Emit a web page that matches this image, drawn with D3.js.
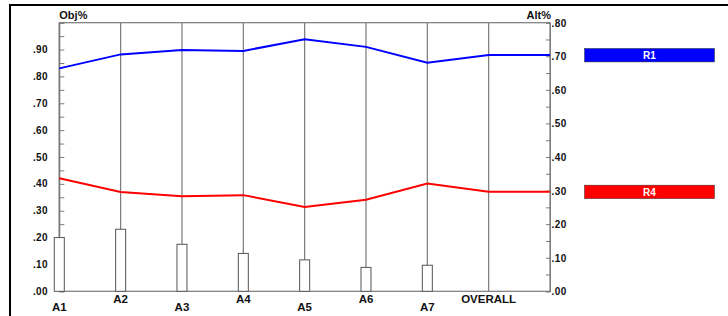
<!DOCTYPE html>
<html><head><meta charset="utf-8">
<script src="https://cdn.jsdelivr.net/npm/d3@7"></script>
<style>
html,body{margin:0;padding:0;background:#fff;}
text{font-family:"Liberation Sans",Arial,sans-serif;font-weight:bold;}
</style></head>
<body>
<svg id="c" width="728" height="316"></svg>
<script>
const categories = ["A1","A2","A3","A4","A5","A6","A7","OVERALL"];
const r1Values = [0.830,0.882,0.898,0.895,0.938,0.910,0.851,0.880];
const r4Values = [0.421,0.370,0.354,0.358,0.314,0.341,0.401,0.371];
const barValues = [0.200,0.231,0.175,0.141,0.117,0.089,0.097,null];
const leftTicks = [0,0.1,0.2,0.3,0.4,0.5,0.6,0.7,0.8,0.9];
const rightTicks = [0,0.1,0.2,0.3,0.4,0.5,0.6,0.7,0.8];
const seriesNames = ["R1","R4"];
const seriesColors = ["#0000ff","#ff0000"];

const svg = d3.select("#c");
const L = 59.3, R = 550, T = 22.7, B = 291.3;
const x = d3.scaleLinear().domain([0, categories.length]).range([L, R]);
const yL = d3.scaleLinear().domain([0,1]).range([B,T]);
const yR = d3.scaleLinear().domain([0,0.8]).range([B,T]);
const fmt = v => d3.format(".2f")(v).replace(/^0/,"");

// outer border (left + top)
svg.append("line").attr("x1",10).attr("x2",10).attr("y1",4).attr("y2",316).attr("stroke","#000").attr("stroke-width",2);
svg.append("line").attr("x1",9).attr("x2",728).attr("y1",5).attr("y2",5).attr("stroke","#000").attr("stroke-width",2);

const grid = "#7a7a7a";
// frame
svg.append("rect").attr("x",L).attr("y",T).attr("width",R-L).attr("height",B-T)
  .attr("fill","none").attr("stroke",grid).attr("stroke-width",1.2);

// vertical gridlines
svg.append("g").selectAll("line").data(categories).join("line")
  .attr("x1",(d,i)=>x(i)).attr("x2",(d,i)=>x(i)).attr("y1",T).attr("y2",B)
  .attr("stroke",grid).attr("stroke-width",1.2);

// left axis
const la = svg.append("g").attr("transform",`translate(${L},0)`)
  .call(d3.axisRight(yL).tickValues(d3.range(0,1.0001,0.05)).tickSize(5).tickFormat(""));
la.select(".domain").attr("stroke",grid);
la.selectAll(".tick line").attr("stroke",grid);
svg.append("g").selectAll("text").data(leftTicks).join("text")
  .attr("x",48).attr("y",d=>yL(d)+3.5).attr("text-anchor","end")
  .attr("font-size",10).attr("letter-spacing",0.4).attr("fill","#111").text(fmt);

// right axis
const ra = svg.append("g").attr("transform",`translate(${R},0)`)
  .call(d3.axisLeft(yR).tickValues(d3.range(0,0.8001,0.05)).tickSize(4).tickFormat(""));
ra.select(".domain").attr("stroke",grid);
ra.selectAll(".tick line").attr("stroke",grid);
svg.append("g").selectAll("text").data(rightTicks).join("text")
  .attr("x",R+1.5).attr("y",d=>yR(d)+4).attr("text-anchor","start")
  .attr("font-size",10).attr("letter-spacing",0.4).attr("fill","#111").text(fmt);

// bars
svg.append("g").selectAll("rect").data(barValues.map((v,i)=>({v,i})).filter(d=>d.v!=null)).join("rect")
  .attr("x",d=>x(d.i)-5).attr("width",10)
  .attr("y",d=>yL(d.v)).attr("height",d=>B-yL(d.v))
  .attr("fill","#fff").attr("stroke","#555").attr("stroke-width",1);

// axis titles
svg.append("text").attr("x",L).attr("y",19).attr("font-size",11).attr("fill","#111").text("Obj%");
svg.append("text").attr("x",R+1).attr("y",19).attr("text-anchor","end").attr("font-size",11).attr("fill","#111").text("Alt%");

// category labels
svg.append("g").selectAll("text").data(categories).join("text")
  .attr("x",(d,i)=>x(i)).attr("y",(d,i)=> i%2===0 ? 311 : 302.5)
  .attr("text-anchor","middle").attr("font-size",11.5).attr("fill","#111").text(d=>d);

// lines
const seriesData = [r1Values, r4Values];
seriesData.forEach((vals,si)=>{
  const pts = vals.map((v,i)=>[x(i), yL(v)]);
  pts.push([R, yL(vals[vals.length-1])]);
  svg.append("path").attr("d",d3.line()(pts)).attr("fill","none")
    .attr("stroke",seriesColors[si]).attr("stroke-width",2);
});

// legend
seriesData.forEach((vals,si)=>{
  const cy = yL(vals[vals.length-1]);
  svg.append("rect").attr("x",584.5).attr("y",cy-6.5).attr("width",130).attr("height",13.5)
    .attr("fill",seriesColors[si]).attr("stroke","#333").attr("stroke-width",0.5);
  svg.append("text").attr("x",649.5).attr("y",cy+4).attr("text-anchor","middle")
    .attr("font-size",10).attr("fill","#fff").text(seriesNames[si]);
});
</script>
</body></html>
